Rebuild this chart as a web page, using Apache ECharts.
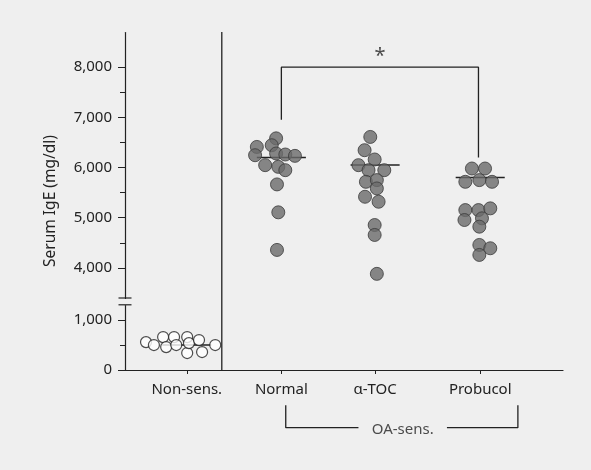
<!DOCTYPE html>
<html>
<head>
<meta charset="utf-8">
<script src="https://cdn.jsdelivr.net/npm/echarts@6/dist/echarts.min.js"></script>
<style>
  html, body { margin: 0; padding: 0; background: #efefef; }
  #main { width: 591px; height: 470px; }
</style>
</head>
<body>
<div id="main"></div>
<script>
// group names and where their columns sit on the x scale (0..100)
const groups = ['Non-sens.', 'Normal', 'α-TOC', 'Probucol'];
const groupX = [14.1, 35.7, 57.1, 81.1];
const separatorX = 22.1;

// [x, IgE] per animal
const nonSens = [[4.8,556],[6.6,497],[8.7,656],[9.4,457],[11.2,656],[11.7,497],[14.2,656],[14.2,338],[14.6,536],[16.9,596],[17.6,358],[20.6,497]];
const normal = [[34.5,6581],[33.5,6444],[30.1,6410],[29.7,6245],[32.0,6047],[34.5,6279],[36.6,6259],[38.8,6232],[35.0,6013],[36.6,5947],[34.7,5663],[35.0,5107],[34.7,4358]];
const alphaToc = [[56.0,6609],[54.7,6345],[57.0,6160],[53.3,6047],[55.6,5947],[59.2,5947],[55.0,5715],[57.5,5749],[57.5,5583],[54.8,5417],[57.9,5318],[57.0,4854],[57.0,4656],[57.5,3881]];
const probucol = [[79.2,5980],[82.2,5980],[77.7,5715],[80.9,5749],[83.8,5715],[77.7,5152],[80.7,5152],[83.4,5186],[77.5,4954],[81.5,4987],[80.9,4821],[80.9,4457],[83.4,4391],[80.9,4258]];
const medians = [500, 6200, 6050, 5800];

// y axis
const yMajorTicks = [0, 1000, 4000, 5000, 6000, 7000, 8000];
const yMinorTicks = [500, 4500, 5500, 6500, 7500];
const yBreakStart = 1300, yBreakEnd = 3400;

// significance bracket and OA-sens. bracket
const sigBracket = [[35.7,6950],[35.7,8000],[80.7,8000],[80.7,6200]];
const oaLeft = [[36.7,-700],[36.7,-1150],[53.3,-1150]];
const oaRight = [[73.5,-1150],[89.7,-1150],[89.7,-700]];

const FONT = 'Noto Sans';
const INK = '#222';

let chart = echarts.init(document.getElementById('main'));

const yBase = {
  type: 'value', min: 0, max: 8700,
  breaks: [{ start: yBreakStart, end: yBreakEnd, gap: '2%' }],
  breakArea: { show: false },
  splitLine: { show: false }
};

let medianSeries = medians.map(function (m, i) {
  return {
    type: 'line', symbol: 'none', z: 2, silent: true,
    lineStyle: { color: INK, width: 1.5 },
    data: [[groupX[i] - 5.6, m], [groupX[i] + 5.6, m]]
  };
});

function dots(data, open) {
  return {
    type: 'scatter', symbolSize: open ? 11 : 13, z: 3,
    itemStyle: open
      ? { color: '#fff', borderColor: INK, borderWidth: 1.2 }
      : { color: '#6a6a6a', borderColor: '#3a3a3a', borderWidth: 1 },
    data: data
  };
}

function bracket(data) {
  return {
    type: 'line', symbol: 'none', clip: false, silent: true,
    lineStyle: { color: INK, width: 1.3 },
    data: data
  };
}

let option = {
  backgroundColor: '#efefef',
  animation: false,
  grid: { left: 125, right: 28, top: 32, bottom: 100, outerBoundsMode: 'none' },
  xAxis: {
    type: 'value', min: 0, max: 100,
    splitLine: { show: false },
    axisLine: { show: true, lineStyle: { color: INK, width: 1.2 } },
    axisTick: { show: true, length: 4, customValues: groupX, lineStyle: { color: INK } },
    axisLabel: {
      customValues: groupX, margin: 12, color: INK, fontSize: 15, fontFamily: FONT,
      formatter: function (v) {
        let best = 0;
        groupX.forEach(function (g, i) { if (Math.abs(g - v) < Math.abs(groupX[best] - v)) best = i; });
        return groups[best];
      }
    }
  },
  yAxis: [
    Object.assign({}, yBase, {
      axisLine: { show: true, lineStyle: { color: INK, width: 1.2 } },
      axisTick: { show: true, length: 7, customValues: yMajorTicks, lineStyle: { color: INK } },
      axisLabel: {
        customValues: yMajorTicks, margin: 13, color: INK, fontSize: 15, fontFamily: FONT,
        formatter: function (v) { return v.toLocaleString('en-US'); }
      },
      name: 'Serum IgE (mg/dl)', nameLocation: 'middle', nameGap: 66,
      nameTextStyle: { color: INK, fontSize: 15.5, fontFamily: FONT }
    }),
    Object.assign({}, yBase, {
      position: 'left',
      axisLine: { show: false },
      axisTick: { show: true, length: 5, customValues: yMinorTicks, lineStyle: { color: INK } },
      axisLabel: { show: false }
    })
  ],
  series: [
    // separator between non-sensitised and sensitised groups
    {
      type: 'line', symbol: 'none', silent: true,
      lineStyle: { color: INK, width: 1.3 },
      data: [[separatorX, 0], [separatorX, 8700]]
    },
    dots(nonSens, true),
    dots(normal, false),
    dots(alphaToc, false),
    dots(probucol, false),
    ...medianSeries,
    bracket(sigBracket),
    bracket(oaLeft),
    bracket(oaRight),
    // axis break marks
    {
      type: 'scatter', symbol: 'rect', symbolSize: [13, 1.5], clip: false, silent: true, z: 6,
      itemStyle: { color: INK },
      data: [[0, yBreakStart], [0, yBreakEnd]]
    },
    // labels
    {
      type: 'scatter', symbolSize: 0, clip: false, silent: true,
      label: { show: true, position: 'top', distance: 1, formatter: '*', color: INK, fontSize: 20, fontFamily: FONT },
      data: [[(sigBracket[0][0] + sigBracket[2][0]) / 2, 8000]]
    },
    {
      type: 'scatter', symbolSize: 0, clip: false, silent: true,
      label: { show: true, position: 'inside', formatter: 'OA-sens.', color: INK, fontSize: 15, fontFamily: FONT },
      data: [[(oaLeft[2][0] + oaRight[0][0]) / 2, -1200]]
    }
  ]
};

option && chart.setOption(option);
</script>
</body>
</html>
